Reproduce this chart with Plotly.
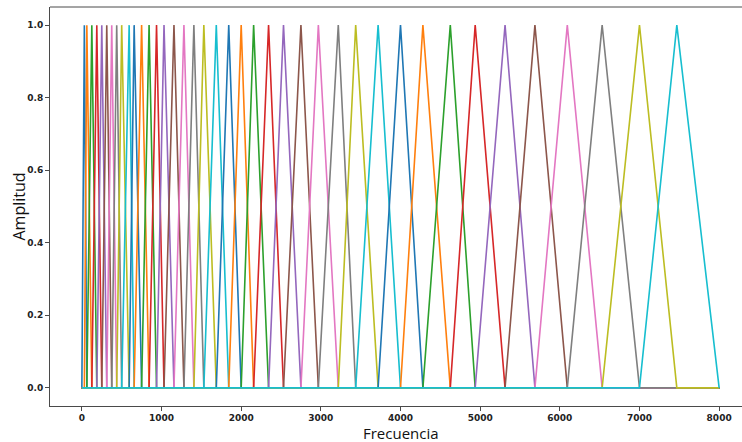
import plotly.graph_objects as go

# Filter edge frequencies (Hz): filter i spans edges[i] .. edges[i+2], peak at edges[i+1]
edges = [0, 31.25, 62.5, 125, 187.5, 250, 312.5, 375, 437.5, 500, 593.75, 656.25,
         750, 843.75, 937.5, 1031.25, 1156.25, 1281.25, 1406.25, 1531.25, 1687.5,
         1843.75, 2000, 2156.25, 2343.75, 2531.25, 2750, 2968.75, 3218.75, 3437.5,
         3718.75, 4000, 4281.25, 4625, 4937.5, 5312.5, 5687.5, 6093.75, 6531.25,
         7000, 7468.75, 8000]
freq_min = 0
freq_max = 8000
peak_amp = 1.0

x_ticks = [0, 1000, 2000, 3000, 4000, 5000, 6000, 7000, 8000]
y_ticks = [0.0, 0.2, 0.4, 0.6, 0.8, 1.0]

colors = ["#1f77b4", "#ff7f0e", "#2ca02c", "#d62728", "#9467bd",
          "#8c564b", "#e377c2", "#7f7f7f", "#bcbd22", "#17becf"]

fig = go.Figure()
n_filters = len(edges) - 2
for i in range(n_filters):
    lo, pk, hi = edges[i], edges[i + 1], edges[i + 2]
    fig.add_trace(go.Scatter(
        x=[freq_min, lo, pk, hi, freq_max],
        y=[0, 0, peak_amp, 0, 0],
        mode="lines",
        line=dict(color=colors[i % 10], width=1.6),
        hoverinfo="skip",
        showlegend=False,
    ))

spine = "#4a4a4a"
fig.update_layout(
    width=742, height=442,
    margin=dict(l=50, r=0, t=7, b=36),
    paper_bgcolor="white", plot_bgcolor="white",
    xaxis=dict(range=[-400, 8287], tickvals=x_ticks, ticktext=[str(v) for v in x_ticks],
               showgrid=False, zeroline=False, showline=True, linecolor=spine, linewidth=1,
               ticks="outside", ticklen=4, tickwidth=1, tickcolor=spine, automargin=False,
               ticklabelstandoff=-1,
               tickfont=dict(family="DejaVu Sans", size=9, color="#222", weight="bold")),
    yaxis=dict(range=[-0.05, 1.05], tickvals=y_ticks, ticktext=[f"{v:.1f}" for v in y_ticks],
               showgrid=False, zeroline=False, showline=True, linecolor=spine, linewidth=1,
               ticks="outside", ticklen=4, tickwidth=1, tickcolor=spine, automargin=False,
               tickfont=dict(family="DejaVu Sans", size=9, color="#222", weight="bold")),
    shapes=[dict(type="line", xref="paper", yref="paper", x0=0, x1=1, y0=1, y1=1,
                 line=dict(color=spine, width=1))],
    annotations=[
        dict(text="Frecuencia", xref="x", yref="paper", x=4000, y=0, yshift=-27,
             showarrow=False, yanchor="middle", xanchor="center", borderpad=0,
             font=dict(family="Open Sans", size=15, color="#111")),
        dict(text="Amplitud", xref="paper", yref="paper", x=0, xshift=-32, y=0.5,
             showarrow=False, textangle=-90, xanchor="center", yanchor="middle",
             font=dict(family="Open Sans", size=16, color="#111")),
    ],
)

fig.write_html("out.html", config={"displayModeBar": False},
               post_script="document.body.style.margin='0';document.body.style.overflow='hidden';")
